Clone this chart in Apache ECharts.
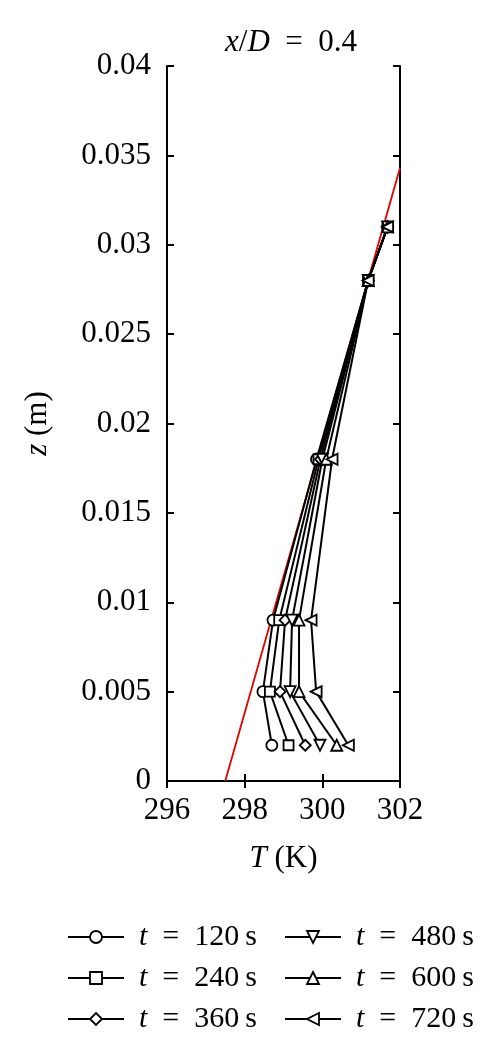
<!DOCTYPE html>
<html><head><meta charset="utf-8">
<script src="https://cdn.jsdelivr.net/npm/echarts@6/dist/echarts.min.js"></script>
<style>html,body{margin:0;padding:0;background:#fff}#c{width:494px;height:1057px}</style>
</head><body><div id="c"></div>
<script>
const zLevels = [0.002, 0.005, 0.009, 0.018, 0.028, 0.031];
const seriesNames = ['120', '240', '360', '480', '600', '720'];
const t120 = [298.70, 298.47, 298.73, 299.85, 301.18, 301.68];
const t240 = [299.13, 298.65, 298.89, 299.90, 301.18, 301.68];
const t360 = [299.56, 298.91, 299.04, 299.95, 301.18, 301.68];
const t480 = [299.94, 299.17, 299.22, 300.00, 301.18, 301.68];
const t600 = [300.37, 299.40, 299.40, 300.10, 301.18, 301.68];
const t720 = [300.67, 299.84, 299.71, 300.25, 301.18, 301.68];
const refLineT = [297.5, 302.0];
const refLineZ = [0.0, 0.0343];
const symbols = ['circle', 'rect', 'diamond', 'path://M0,0 L10,0 L5,9 Z', 'triangle', 'path://M0,5 L9,0 L9,10 Z'];
const allT = [t120, t240, t360, t480, t600, t720];

const font = 'Liberation Serif';
const FS = 31;
const chart = echarts.init(document.getElementById('c'));
const series = allT.map((arr, i) => ({
  name: seriesNames[i],
  type: 'line',
  data: arr.map((t, k) => [t, zLevels[k]]),
  symbol: symbols[i],
  symbolSize: i === 1 ? 10 : 11,
  showSymbol: true,
  itemStyle: { color: '#fff', borderColor: '#000', borderWidth: 1.8 },
  lineStyle: { color: '#000', width: 2 },
  emphasis: { disabled: true },
  z: 3
}));
series.push({
  name: 'ref', type: 'line',
  data: refLineT.map((t, k) => [t, refLineZ[k]]),
  symbol: 'none', lineStyle: { color: '#e00000', width: 1.8 }, z: 2, clip: true
});
const rich = { i: { fontFamily: font, fontStyle: 'italic', fontSize: FS, color: '#000' } };
const legendText = { fontFamily: font, fontSize: 30, color: '#000', padding: [0, 0, 0, 10],
  rich: { i: { fontFamily: font, fontStyle: 'italic', fontSize: 30, color: '#000' } } };
const fmt = n => '{i|t}\u2002=\u2002' + n + '\u2009s';
const mkLegend = (names, left) => ({
  data: names, left: left, top: 917, orient: 'vertical', itemWidth: 56, itemHeight: 15,
  itemGap: 11, textStyle: legendText, formatter: fmt, selectedMode: false,
  itemStyle: { color: '#fff', borderColor: '#000', borderWidth: 1.8 },
  lineStyle: { color: '#000', width: 2 }
});
chart.setOption({
  animation: false,
  backgroundColor: '#fff',
  title: {
    text: '{i|x}/{i|D}\u2002=\u20020.4', left: 286, top: 22, textAlign: 'center',
    textStyle: { fontFamily: font, fontSize: FS, fontWeight: 'normal', color: '#000', rich: rich }
  },
  legend: [mkLegend(['120', '240', '360'], 62), mkLegend(['480', '600', '720'], 279)],
  grid: { left: 167, right: 94, top: 66, bottom: 276 },
  xAxis: [{
    type: 'value', min: 296, max: 302, interval: 2, position: 'bottom',
    name: '{i|T} (K)', nameLocation: 'middle', nameGap: 62,
    nameTextStyle: { fontFamily: font, fontSize: FS, color: '#000', rich: rich },
    axisLine: { show: true, lineStyle: { color: '#000', width: 2 } },
    axisTick: { inside: true, length: 7, lineStyle: { color: '#000', width: 2 } },
    axisLabel: { fontFamily: font, fontSize: FS, color: '#000', margin: 14 },
    splitLine: { show: false }
  }, {
    type: 'value', min: 296, max: 302, interval: 2, position: 'top',
    axisLine: { show: true, lineStyle: { color: '#000', width: 2 } },
    axisTick: { inside: true, length: 7, lineStyle: { color: '#000', width: 2 } },
    axisLabel: { show: false }, splitLine: { show: false }
  }],
  yAxis: [{
    type: 'value', min: 0, max: 0.04, interval: 0.005, position: 'left',
    name: '{i|z} (m)', nameLocation: 'middle', nameGap: 114, nameRotate: 90,
    nameTextStyle: { fontFamily: font, fontSize: FS, color: '#000', rich: rich },
    axisLine: { show: true, lineStyle: { color: '#000', width: 2 } },
    axisTick: { inside: true, length: 7, lineStyle: { color: '#000', width: 2 } },
    axisLabel: { fontFamily: font, fontSize: FS, color: '#000', margin: 16 },
    splitLine: { show: false }
  }, {
    type: 'value', min: 0, max: 0.04, interval: 0.005, position: 'right',
    axisLine: { show: true, lineStyle: { color: '#000', width: 2 } },
    axisTick: { inside: true, length: 7, lineStyle: { color: '#000', width: 2 } },
    axisLabel: { show: false }, splitLine: { show: false }
  }],
  series: series
});
</script></body></html>
